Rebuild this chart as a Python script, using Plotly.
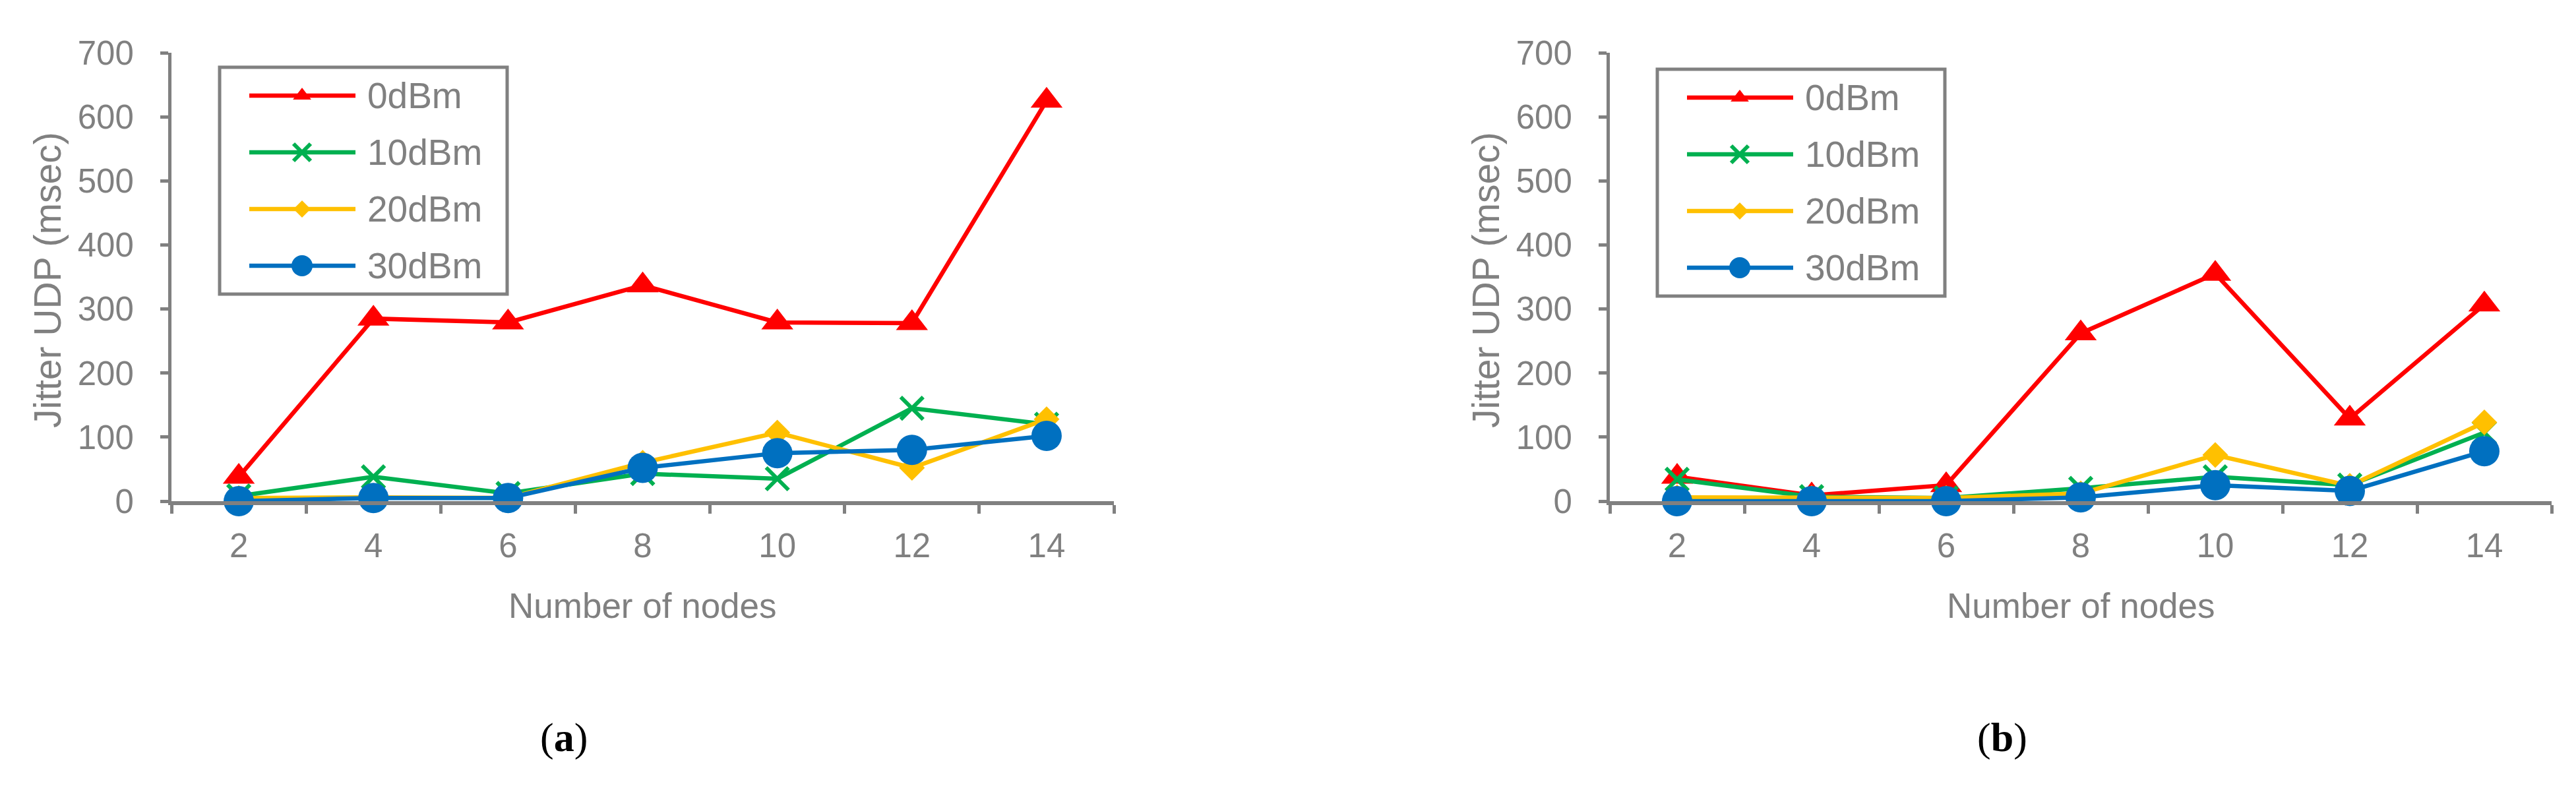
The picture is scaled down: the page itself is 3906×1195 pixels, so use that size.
import plotly.graph_objects as go

W, H = 3906, 1195
OFF = 8  # page body margin in the browser
GRAY = "#808080"
FONT = "Liberation Sans, Arial, sans-serif"

nodes = [2, 4, 6, 8, 10, 12, 14]
series_names = ["0dBm", "10dBm", "20dBm", "30dBm"]
y_ticks = [0, 100, 200, 300, 400, 500, 600, 700]

# panel (a)
jitter_a_0dbm = [38, 285, 279, 337, 279, 278, 625]
jitter_a_10dbm = [8, 38, 12, 43, 35, 145, 120]
jitter_a_20dbm = [5, 6, 5, 60, 107, 52, 128]
jitter_a_30dbm = [0, 5, 5, 52, 75, 80, 102]

# panel (b)
jitter_b_0dbm = [38, 9, 25, 262, 355, 129, 307]
jitter_b_10dbm = [34, 7, 5, 20, 38, 25, 107]
jitter_b_20dbm = [6, 5, 5, 12, 72, 24, 123]
jitter_b_30dbm = [0, 0, 0, 6, 25, 16, 78]

panels = [
    ("x", "y", [jitter_a_0dbm, jitter_a_10dbm, jitter_a_20dbm, jitter_a_30dbm]),
    ("x2", "y2", [jitter_b_0dbm, jitter_b_10dbm, jitter_b_20dbm, jitter_b_30dbm]),
]

styles = [
    dict(color="#FF0000", symbol="triangle-up", size=42, lsize=24),
    dict(color="#00B050", symbol="x-thin", size=34, lsize=26),
    dict(color="#FFC000", symbol="diamond", size=30, lsize=20),
    dict(color="#0070C0", symbol="circle", size=46, lsize=32),
]


def marker(st, size):
    lw = 6 if st["symbol"] == "x-thin" else 0
    return dict(symbol=st["symbol"], size=size, color=st["color"],
                line=dict(width=lw, color=st["color"]))


def fx(v):
    return (v - OFF) / W


def fy(v):
    return (H - (v - OFF)) / H


fig = go.Figure()

for xa, ya, series in panels:
    for vals, name, st in zip(series, series_names, styles):
        fig.add_trace(go.Scatter(
            x=nodes, y=vals, name=name, mode="lines+markers",
            line=dict(color=st["color"], width=6.5),
            marker=marker(st, st["size"]),
            xaxis=xa, yaxis=ya, showlegend=False, cliponaxis=False,
        ))


def add_legend(left, top):
    left, top = left - OFF, top - OFF
    fig.add_shape(type="rect", xref="x3", yref="y3",
                  x0=left, x1=left + 436, y0=top, y1=top + 344,
                  line=dict(color=GRAY, width=5))
    for i, (name, st) in enumerate(zip(series_names, styles)):
        yy = top + 43 + i * 86
        fig.add_trace(go.Scatter(
            x=[left + 45, left + 206], y=[yy, yy], mode="lines",
            line=dict(color=st["color"], width=6.5),
            xaxis="x3", yaxis="y3", showlegend=False, hoverinfo="skip"))
        fig.add_trace(go.Scatter(
            x=[left + 125], y=[yy], mode="markers",
            marker=marker(st, st["lsize"]),
            xaxis="x3", yaxis="y3", showlegend=False, hoverinfo="skip"))
        fig.add_annotation(xref="x3", yref="y3", x=left + 222, y=yy,
                           text=name, showarrow=False, xanchor="left",
                           yanchor="middle", font=dict(size=55, color=GRAY, family=FONT))


add_legend(333, 102)
add_legend(2513, 105)

yaxis_style = dict(
    range=[0, 700], tickvals=y_ticks, ticks="outside", ticklen=12, tickwidth=5,
    tickcolor=GRAY, showline=True, linewidth=5, linecolor=GRAY,
    showgrid=False, zeroline=False, ticklabelstandoff=30, automargin=False,
    tickfont=dict(size=51, color=GRAY, family=FONT),
    domain=[fy(760), fy(80)],
)
xaxis_style = dict(
    type="category", range=[-0.5, 6.5], tickson="boundaries", ticks="outside",
    ticklen=13, tickwidth=5, tickcolor=GRAY, showline=True, linewidth=6,
    linecolor=GRAY, showgrid=False, zeroline=False, ticklabelstandoff=18,
    automargin=False, tickfont=dict(size=51, color=GRAY, family=FONT),
)

fig.update_layout(
    template="none",
    width=W, height=H, autosize=False,
    margin=dict(l=0, r=0, t=0, b=0, pad=0),
    paper_bgcolor="white", plot_bgcolor="rgba(0,0,0,0)",
    showlegend=False,
    xaxis=dict(xaxis_style, domain=[fx(260), fx(1689)], anchor="y"),
    yaxis=dict(yaxis_style, anchor="x"),
    xaxis2=dict(xaxis_style, domain=[fx(2441), fx(3869)], anchor="y2"),
    yaxis2=dict(yaxis_style, anchor="x2"),
    xaxis3=dict(domain=[0, 1], range=[0, W], visible=False, anchor="y3", automargin=False),
    yaxis3=dict(domain=[0, 1], range=[H, 0], visible=False, anchor="x3", automargin=False),
)

# axis titles and panel labels
for x_center, y_title_x, label_x, label in [(974, 72, 855, "a"), (3155, 2253, 3036, "b")]:
    fig.add_annotation(xref="x3", yref="y3", x=x_center - OFF, y=918 - OFF,
                       text="Number of nodes", showarrow=False,
                       font=dict(size=53, color=GRAY, family=FONT))
    fig.add_annotation(xref="x3", yref="y3", x=y_title_x - OFF, y=425 - OFF,
                       text="Jitter UDP (msec)", textangle=-90, showarrow=False,
                       font=dict(size=57, color=GRAY, family=FONT))
    fig.add_annotation(xref="x3", yref="y3", x=label_x - OFF, y=1118 - OFF,
                       text="(<b>" + label + "</b>)", showarrow=False,
                       font=dict(size=62, color="black", family="Liberation Serif, Times New Roman, serif"))

fig.write_html("out.html")
